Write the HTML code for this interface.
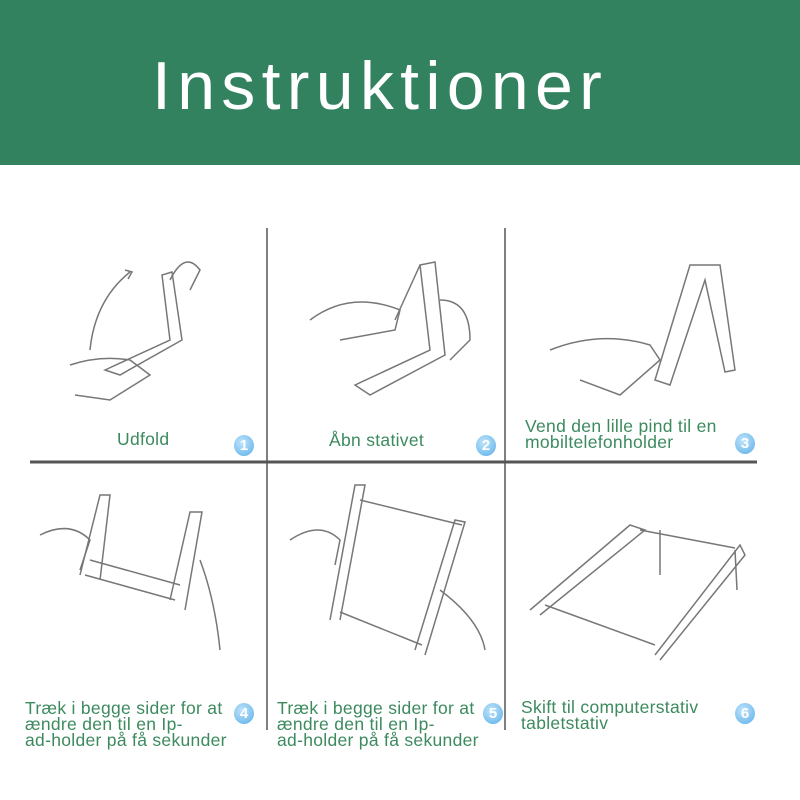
<!DOCTYPE html>
<html><head><meta charset="utf-8"><style>
body{margin:0;width:800px;height:800px;background:#fff;position:relative;overflow:hidden;font-family:"Liberation Sans",sans-serif}
.hdr{position:absolute;left:0;top:0;width:800px;height:165px;background:#32825f}
.hdr span{position:absolute;left:152px;top:46px;color:#fff;font-size:68px;letter-spacing:6.3px;line-height:80px}
.t{position:absolute;color:#3c8a5e;font-size:17.5px;line-height:16px;white-space:nowrap;letter-spacing:0.3px}
.b{position:absolute;width:20px;height:21px;border-radius:50%;background:radial-gradient(circle at 40% 35%,#bfe4fb,#5aaee8);color:#fff;font-size:15px;font-weight:bold;text-align:center;line-height:21px}
svg{position:absolute;left:0;top:0}
</style></head><body>
<div class="hdr"><span>Instruktioner</span></div>
<svg width="800" height="800" fill="none" stroke="#777" stroke-width="1.5">
<line x1="267" y1="228" x2="267" y2="730" stroke="#555" stroke-width="1.5"/>
<line x1="505" y1="228" x2="505" y2="730" stroke="#555" stroke-width="1.5"/>
<line x1="30" y1="462" x2="757" y2="462" stroke="#555" stroke-width="3"/>
<path d="M90 350 Q95 300 130 272"/><path d="M125 270 L132 272 L128 279"/>
<path d="M105 370 L170 340 L162 275 L172 272 L182 340 L120 375 Z"/>
<path d="M70 365 Q100 355 130 360 L150 375 L110 400 L75 395"/>
<path d="M170 280 Q185 250 200 270 L190 290"/>
<path d="M355 385 L430 350 L420 265 L435 262 L445 355 L370 395 Z"/>
<path d="M395 320 L420 265"/><path d="M310 320 Q350 290 400 310 L395 330 L340 340"/>
<path d="M440 300 Q470 300 470 340 L450 360"/>
<path d="M655 380 L690 265 L720 265 L735 370 L725 372 L705 280 L670 385 Z"/>
<path d="M550 350 Q600 330 650 345 L660 360 L620 395 L580 380"/>
<path d="M80 575 L100 495 L110 495 L100 580"/><path d="M170 600 L190 512 L202 512 L185 610"/>
<path d="M90 560 L180 585"/><path d="M85 575 L175 600"/>
<path d="M40 535 Q70 520 90 540 L80 570"/><path d="M200 560 Q215 600 220 650"/>
<path d="M330 620 L355 485 L365 485 L340 620"/><path d="M415 650 L455 520 L465 522 L425 655"/>
<path d="M360 500 L462 525"/><path d="M340 612 L422 645"/>
<path d="M290 540 Q320 520 340 540 L335 565"/><path d="M440 590 Q480 620 485 650"/>
<path d="M530 610 L630 525 L645 530 L540 615"/><path d="M655 655 L740 545 L745 555 L660 660"/>
<path d="M640 530 L735 548"/><path d="M545 605 L655 645"/>
<path d="M660 530 L660 575"/><path d="M735 550 L737 590"/>
</svg>
<div class="t" style="left:117px;top:431px">Udfold</div>
<div class="t" style="left:329px;top:432px">Åbn stativet</div>
<div class="t" style="left:525px;top:418px">Vend den lille pind til en<br>mobiltelefonholder</div>
<div class="t" style="left:25px;top:700px">Træk i begge sider for at<br>ændre den til en Ip-<br>ad-holder på få sekunder</div>
<div class="t" style="left:277px;top:700px">Træk i begge sider for at<br>ændre den til en Ip-<br>ad-holder på få sekunder</div>
<div class="t" style="left:521px;top:699px">Skift til computerstativ<br>tabletstativ</div>
<div class="b" style="left:234px;top:435px">1</div>
<div class="b" style="left:476px;top:435px">2</div>
<div class="b" style="left:735px;top:433px">3</div>
<div class="b" style="left:234px;top:703px">4</div>
<div class="b" style="left:483px;top:703px">5</div>
<div class="b" style="left:735px;top:703px">6</div>
</body></html>
